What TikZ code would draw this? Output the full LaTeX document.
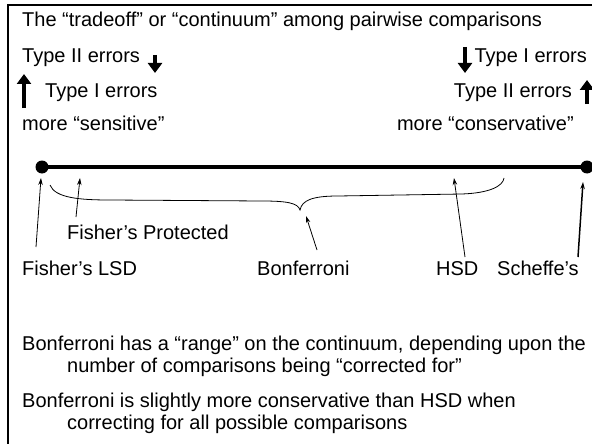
\documentclass[tikz,border=0pt]{standalone}
\usepackage{fontspec}
\setmainfont{Liberation Sans}
\usetikzlibrary{arrows.meta}

\begin{document}
\begin{tikzpicture}[x=1pt,y=-1pt,font=\fontsize{20}{24}\selectfont,
  txt/.style={inner sep=0pt,anchor=base west},
  txtr/.style={inner sep=0pt,anchor=base east},
  fat/.style={line width=4pt,-{Triangle[length=10pt,width=14pt]}},
  pointer/.style={line width=0.8pt,-{Stealth[length=7pt,width=4.5pt]}}]

\clip (0,0) rectangle (592,444);
\draw[line width=2pt] (8,5.5) rectangle (620,470);

\begin{scope}
\node[txt] (title) at (22,27) {The “tradeoff” or “continuum” among pairwise comparisons};
\node[txt] (lowtwo) at (22,63) {Type II errors};
\node[txt] (lowone) at (45,97) {Type I errors};
\node[txt] (sens) at (22,130) {more “sensitive”};
\node[txtr] (highone) at (587,63) {Type I errors};
\node[txtr] (hightwo) at (572,97) {Type II errors};
\node[txtr] (cons) at (574,130) {more “conservative”};
\draw[fat] (155,55) -- (155,73);
\draw[fat] (24,108) -- (24,74);
\draw[fat] (465,47) -- (465,73);
\draw[fat] (587,104) -- (587,80);
\end{scope}

% the continuum
\begin{scope}
\coordinate (lo) at (42,167);
\coordinate (hi) at (587,167);
\draw[line width=4pt] (lo) -- (hi);
\fill (lo) circle (6.5);
\fill (hi) circle (6.5);
\coordinate (bl) at (50,185);
\coordinate (btip) at (300,210);
\coordinate (br) at (504,178);
\draw[line width=0.8pt] (bl) .. controls (55,198) and (80,200) .. (110,200) -- (262,201)
  .. controls (287,201) and (298,203) .. (btip)
  .. controls (302,200) and (313,196) .. (338,196) -- (462,194)
  .. controls (490,193) and (503,186) .. (br);
\end{scope}

\begin{scope}
\node[txt] (lsd) at (22,275) {Fisher’s LSD};
\node[txt] (prot) at (67,239) {Fisher’s Protected};
\node[txt] (bonf) at (257,275) {Bonferroni};
\node[txt] (hsd) at (436,275) {HSD};
\node[txt] (scheffe) at (497,275) {Scheffe’s};
\coordinate (lsdtail) at (36,247);
\coordinate (lsdhead) at (41,178);
\coordinate (prottail) at (76,217);
\coordinate (prothead) at (80,178);
\coordinate (bonftail) at (317,250);
\coordinate (bonfhead) at (306,216);
\coordinate (hsdtail) at (465,257);
\coordinate (hsdhead) at (454,178);
\coordinate (schtail) at (578,257);
\coordinate (schhead) at (583,182);
\draw[pointer] (lsdtail) -- (lsdhead);
\draw[pointer] (prottail) -- (prothead);
\draw[pointer] (bonftail) -- (bonfhead);
\draw[pointer] (hsdtail) -- (hsdhead);
\draw[pointer,line width=1.5pt] (schtail) -- (schhead);
\end{scope}

\node[txt] (noteone) at (22,350) {Bonferroni has a “range” on the continuum, depending upon the};
\node[txt] (noteonb) at (67,372) {number of comparisons being “corrected for”};
\node[txt] (notetwo) at (22,407) {Bonferroni is slightly more conservative than HSD when};
\node[txt] (notetwb) at (67,429) {correcting for all possible comparisons};

\end{tikzpicture}
\end{document}
